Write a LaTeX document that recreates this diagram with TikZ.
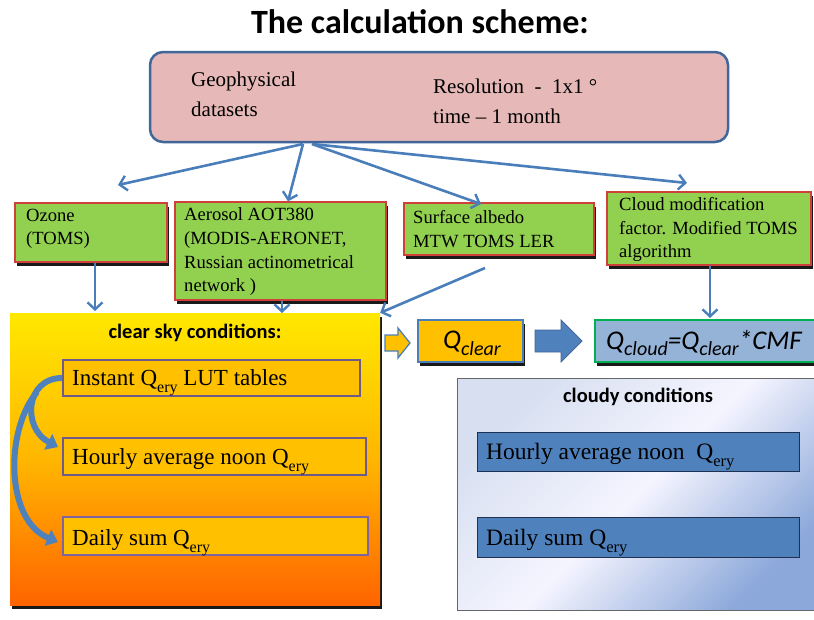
\documentclass[tikz,border=0pt]{standalone}
\usepackage{fontspec}
\setmainfont{Liberation Serif}
\newfontfamily\carl{Carlito}
\usetikzlibrary{arrows.meta,shadows}
\definecolor{arr}{HTML}{4A7EBB}
\definecolor{topb}{HTML}{41679A}
\definecolor{pinkf}{HTML}{E6B9B8}
\definecolor{grn}{HTML}{92D050}
\definecolor{redb}{HTML}{D0403A}
\definecolor{gold}{HTML}{FFC000}
\definecolor{purp}{HTML}{6F5A8C}
\definecolor{purp2}{HTML}{8064A2}
\definecolor{lblue}{HTML}{95B3D7}
\definecolor{greenb}{HTML}{00B050}
\definecolor{dblue}{HTML}{4F81BD}
\definecolor{navy}{HTML}{1F3050}
% subscript with explicit size and drop
\newcommand\mysub[3]{\raisebox{-#2}{\fontsize{#1}{#1}\selectfont #3}}
\begin{document}
\begin{tikzpicture}[x=1pt,y=-1pt,
  shad/.style={drop shadow={shadow xshift=2pt,shadow yshift=-4pt,fill=black,opacity=.9}},
  gbox/.style={draw=redb,line width=1.2pt,fill=grn,shad,inner sep=0pt},
  gtext/.style={anchor=north west,align=left,inner sep=0pt,font=\fontsize{18.6}{23.7}\selectfont},
  obox/.style={draw=purp,line width=1.6pt,fill=gold,inner sep=0pt},
  otext/.style={anchor=west,inner sep=0pt,font=\fontsize{23}{26}\selectfont},
  ctext/.style={anchor=west,inner sep=0pt,font=\fontsize{23.5}{26}\selectfont},
  cbox/.style={draw=navy,line width=0.9pt,fill=dblue,inner sep=0pt},
  arrow/.style={draw=arr,line width=2.6pt,-{Straight Barb[length=7pt,width=15pt,line width=2.4pt]}},
  curv/.style={draw=dblue,line width=6pt,-{Triangle[length=11pt,width=17pt]}},
  heading/.style={font=\carl\bfseries\fontsize{20.5}{24}\selectfont,inner sep=0pt}
]
\useasboundingbox (0,0) rectangle (814,619);

% title
\node[font=\carl\bfseries\fontsize{34}{40}\selectfont,inner sep=0pt] (title) at (420,22) {The calculation scheme:};

% top box
\node[draw=topb,line width=2.5pt,fill=pinkf,rounded corners=13pt,minimum width=578pt,minimum height=90pt,inner sep=0pt] (geo) at (439,97) {};
\node[anchor=north west,align=left,inner sep=0pt,font=\fontsize{21}{30}\selectfont] (geot) at (191,71.5) {Geophysical\\datasets};
\node[anchor=north west,align=left,inner sep=0pt,font=\fontsize{21}{30}\selectfont] (rest) at (433,79) {Resolution~~-~~1x1~°\\time – 1 month};

% green boxes
\node[gbox,minimum width=152pt,minimum height=59pt] (oz) at (91,232.5) {};
\node[gtext] (ozt) at (26,208.5) {Ozone\\(TOMS)};
\node[gbox,minimum width=211pt,minimum height=98pt] (aer) at (280.5,251) {};
\node[gtext] (aert) at (184,207.5) {Aerosol AOT380\\(MODIS-AERONET,\\Russian actinometrical\\network )};
\node[gbox,minimum width=190pt,minimum height=52pt] (alb) at (499,229) {};
\node[gtext] (albt) at (413,210) {Surface albedo\\MTW TOMS LER};
\node[gbox,minimum width=204pt,minimum height=73pt] (cmf) at (709,228.5) {};
\node[gtext] (cmft) at (619,197) {Cloud modification\\factor. Modified TOMS\\algorithm};

% arrows from top box
\coordinate (s1) at (303,144);
\coordinate (s2) at (312,144);
\draw[arrow] (s1) -- (118,185);
\draw[arrow] (s1) -- (aer.north -| 288,0);
\draw[arrow] (s2) -- (481,204);
\draw[arrow] (s2) -- (687,183);

% orange box
\node[shad,inner sep=0pt,minimum width=370pt,minimum height=292pt,top color={rgb,255:red,255;green,232;blue,0},bottom color={rgb,255:red,255;green,100;blue,0},middle color={rgb,255:red,255;green,182;blue,0}] (clear) at (195,459) {};
\node[heading] (cleart) at (195,333) {clear sky conditions:};
\node[obox,minimum width=297pt,minimum height=36pt] (ins) at (211.5,378) {};
\node[otext] (inst) at (72,383) {Instant Q\mysub{16}{0.3em}{ery} LUT tables};
\node[obox,minimum width=303pt,minimum height=37pt] (hou) at (214.5,456.5) {};
\node[otext] (hout) at (72,462) {Hourly average noon Q\mysub{16}{0.3em}{ery}};
\node[obox,draw=purp2,line width=2.6pt,minimum width=305pt,minimum height=38pt] (dai) at (215.5,536) {};
\node[otext] (dait) at (72,543) {Daily sum Q\mysub{16}{0.3em}{ery}};

% arrows into orange box
\draw[arrow] (oz.south -| 95,0) -- (95,311);
\draw[arrow] (aer.south -| 282,0) -- (282,313);
\coordinate (albs) at (485,268);
\draw[arrow] (albs) -- (clear.north east);
\draw[arrow] (cmf.south -| 710,0) -- (710,318);

% curved arrows
\draw[curv] (ins.west) .. controls (25,378) and (22,428) .. (58,447);
\draw[curv] (37,392) .. controls (5,430) and (5,520) .. (58,542);

% Q clear
\fill[gold,draw=arr,line width=1.3pt] (385,335) -- (398,335) -- (398,328) -- (410,343) -- (398,358) -- (398,351) -- (385,351) -- cycle;
\node[draw=arr,line width=1.5pt,fill=gold,shad,minimum width=105pt,minimum height=42pt,inner sep=0pt] (qcl) at (470.5,341) {};
\node[font=\carl\itshape\fontsize{27}{30}\selectfont,inner sep=0pt] (qclt) at (472,343) {Q\mysub{20}{0.25em}{clear}};
\fill[dblue,draw=topb,line width=0.8pt] (535,330) -- (561,330) -- (561,320) -- (582,341) -- (561,362) -- (561,352) -- (535,352) -- cycle;
\node[draw=greenb,line width=2pt,fill=lblue,shad,minimum width=222pt,minimum height=42pt,inner sep=0pt] (qcd) at (706,341) {};
\node[font=\carl\itshape\fontsize{27}{30}\selectfont,inner sep=0pt,anchor=west] (qcdt) at (606,343) {Q\mysub{20}{0.25em}{cloud}=Q\mysub{20}{0.25em}{clear}*CMF};

% cloudy box
\node[draw=black!60,line width=0.6pt,inner sep=0pt,minimum width=362pt,minimum height=232pt,shading=axis,top color={rgb,255:red,215;green,223;blue,240},bottom color={rgb,255:red,140;green,168;blue,218},middle color=white!96!blue,shading angle=45] (cloudy) at (638,494) {};
\node[heading] (cloudyt) at (638,397) {cloudy conditions};
\node[cbox,minimum width=322pt,minimum height=39pt] (ch) at (638,451.5) {};
\node[ctext] (cht) at (486,457) {Hourly average noon~~Q\mysub{16.5}{0.3em}{ery}};
\node[cbox,minimum width=322pt,minimum height=40pt] (cd) at (638,537) {};
\node[ctext] (cdt) at (486,543) {Daily sum Q\mysub{16.5}{0.3em}{ery}};
\end{tikzpicture}
\end{document}
